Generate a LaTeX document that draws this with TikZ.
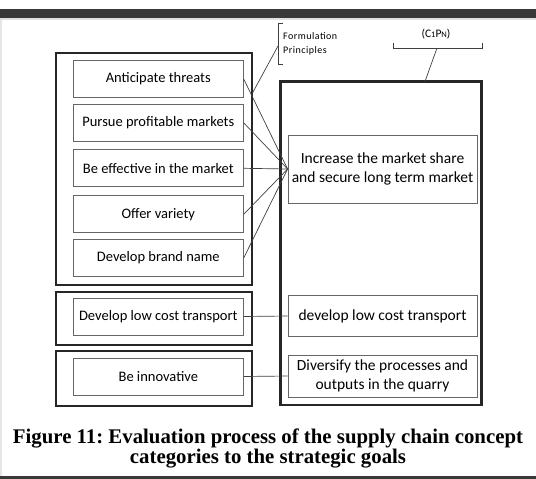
\documentclass[tikz,border=0pt]{standalone}
\usepackage{fontspec}
\setmainfont{Liberation Serif}
\newfontfamily\boxfont{Carlito}
\newfontfamily\tagfont[LetterSpace=5]{Carlito}
\usetikzlibrary{positioning}
\frenchspacing

\begin{document}
\begin{tikzpicture}[x=1pt, y=-1pt,
    group/.style={draw=black!85, line width=2.4pt, inner sep=0pt},
    concept/.style={draw=black!60, line width=0.8pt, fill=white, inner sep=2pt, align=center,
        minimum width=170pt, minimum height=37pt, font=\boxfont\fontsize{14.5}{17}\selectfont},
    goal/.style={concept, minimum width=189pt, font=\boxfont\fontsize{15.5}{18.5}\selectfont},
    link/.style={draw=black!75, line width=0.7pt},
    tag/.style={inner sep=0pt, font=\tagfont\fontsize{10}{14.5}\selectfont}]

    % Page frame
    \useasboundingbox (0,0) rectangle (536,479);
    \fill[black!78] (0,9) rectangle (536,17.5);
    \fill[black!12] (0,17.5) rectangle (536,20);
    \fill[black!10] (0,20) rectangle (1.5,475.5);
    \fill[black!78] (0,475.5) rectangle (536,479);

    % Concept groups (left) and strategic goals (right)
    \node[group, minimum width=196pt, minimum height=232pt] (grpA) at (154,169) {};
    \node[group, minimum width=196pt, minimum height=53pt] (grpB) at (154,318.3) {};
    \node[group, minimum width=196pt, minimum height=55pt] (grpC) at (154,378.3) {};
    \node[group, minimum width=201pt, minimum height=323.5pt] (goals) at (381,243.2) {};

    % Concept categories
    \foreach \name/\y/\txt in {threats/79/Anticipate threats,
                               profit/122.8/Pursue profitable markets,
                               effect/168.3/Be effective in the market,
                               variety/214.3/Offer variety,
                               brand/258/Develop brand name,
                               lowcost/316.5/Develop low cost transport,
                               innov/376.5/Be innovative} {
        \node[concept] (\name) at (158.3,\y) {\txt};
    }

    % Strategic goals
    \node[goal, minimum height=68pt] (share) at (382.5,169) {Increase the market share\\and secure long term market};
    \node[goal, minimum height=41.7pt] (transport) at (382.5,316) {develop low cost transport};
    \node[goal, minimum height=42pt] (diversify) at (382.5,376) {Diversify the processes and\\outputs in the quarry};

    % Evaluation links
    \foreach \name in {threats, profit, effect, variety, brand} {
        \draw[link] (\name.east) -- (share.west);
    }
    \draw[link] (lowcost.east) -- (transport.west);
    \draw[link] (innov.east) -- (diversify.west);

    % Formulation principles bracket
    \draw[link] (283,23) -- (278,23) -- (278,64) -- (283,64);
    \coordinate (fpmid) at (278,46);
    \coordinate (fpfoot) at (252.5,93);
    \draw[link] (fpfoot) -- (fpmid);
    \node[tag, anchor=west] (fptop) at (283,36.5) {Formulation};
    \node[tag, anchor=west] (fpbot) at (283,51) {Principles};

    % (C1PN) bracket
    \draw[link] (393,43) -- (393,48) -- (482,48) -- (482,43);
    \coordinate (cpmid) at (437,48);
    \coordinate (cpfoot) at (425,81.5);
    \draw[link] (cpmid) -- (cpfoot);
    \node[tag, font=\boxfont\fontsize{11.5}{14}\selectfont] (cpn) at (436,34.5)
        {(C{\fontsize{8.5}{10}\selectfont 1}P{\fontsize{8.5}{10}\selectfont N})};

    % Caption
    \node[align=center, font=\bfseries\fontsize{20.8}{20}\selectfont] (caption) at (268,448)
        {Figure 11: Evaluation process of the supply chain concept\\categories to the strategic goals};

\end{tikzpicture}
\end{document}
